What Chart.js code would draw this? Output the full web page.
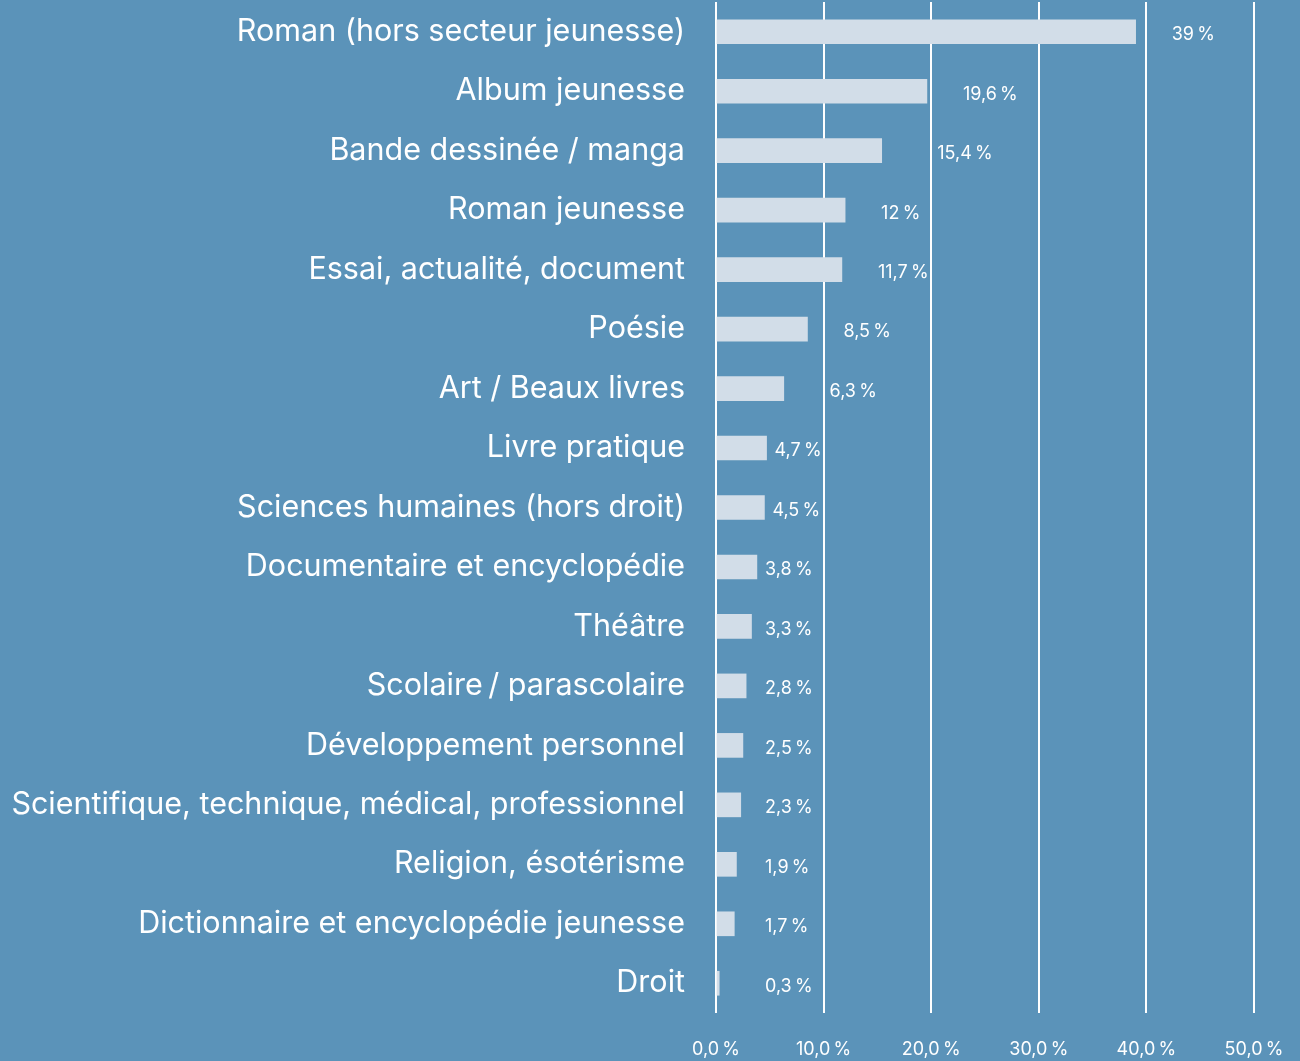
<!DOCTYPE html>
<html>
<head>
<meta charset="utf-8">
<script src="https://cdn.jsdelivr.net/npm/chart.js@4"></script>
<style>
  html, body { margin: 0; padding: 0; background: #5b93b9; }
  #wrap { width: 1300px; height: 1061px; }
</style>
</head>
<body>
<div id="wrap"><canvas id="genreChart"></canvas></div>
<script>
// Répartition par genre (%)
const categories = [
    'Roman (hors secteur jeunesse)',
    'Album jeunesse',
    'Bande dessinée / manga',
    'Roman jeunesse',
    'Essai, actualité, document',
    'Poésie',
    'Art / Beaux livres',
    'Livre pratique',
    'Sciences humaines (hors droit)',
    'Documentaire et encyclopédie',
    'Théâtre',
    'Scolaire\u202F/ parascolaire',
    'Développement personnel',
    'Scientifique, technique, médical, professionnel',
    'Religion, ésotérisme',
    'Dictionnaire et encyclopédie jeunesse',
    'Droit'
];
const shares = [39, 19.6, 15.4, 12, 11.7, 8.5, 6.3, 4.7, 4.5, 3.8, 3.3, 2.8, 2.5, 2.3, 1.9, 1.7, 0.3];
const valueLabels = ['39', '19,6', '15,4', '12', '11,7', '8,5', '6,3', '4,7', '4,5', '3,8', '3,3', '2,8', '2,5', '2,3', '1,9', '1,7', '0,3'];
const axisMax = 50;
const axisStep = 10;

const NNBSP = '\u202F';
const BG = '#5b93b9';
const BAR = '#d2dde8';

const backgroundPlugin = {
    id: 'bgFill',
    beforeDraw(chart) {
        const c = chart.ctx;
        c.save();
        c.fillStyle = BG;
        c.fillRect(0, 0, chart.width, chart.height);
        c.restore();
    }
};

// value labels right of each bar, nudged past any gridline they would cross
const valueLabelPlugin = {
    id: 'valueLabels',
    afterDatasetsDraw(chart) {
        const c = chart.ctx;
        const meta = chart.getDatasetMeta(0);
        const xScale = chart.scales.x;
        const x0 = xScale.getPixelForValue(0);
        const gridPx = xScale.ticks.map(t => xScale.getPixelForValue(t.value));
        const minLeft = x0 + 49;
        c.save();
        c.font = '18px Inter';
        c.fillStyle = '#ffffff';
        c.textAlign = 'left';
        c.textBaseline = 'middle';
        meta.data.forEach((bar, i) => {
            const text = valueLabels[i] + NNBSP + '%';
            const w = c.measureText(text).width;
            let left;
            if (shares[i] >= 6) {
                left = bar.x + 36;
            } else {
                left = Math.max(bar.x + 8, minLeft);
            }
            gridPx.forEach(g => {
                if (g > left - 3 && g < left + w) {
                    left = g + 6;
                }
            });
            c.fillText(text, left, bar.y + 3);
        });
        c.restore();
    }
};

const ctx = document.getElementById('genreChart');
const genreChart = new Chart(ctx, {
    type: 'bar',
    data: {
        labels: categories,
        datasets: [{
            data: shares,
            backgroundColor: BAR,
            borderWidth: 0,
            barThickness: 24
        }]
    },
    options: {
        indexAxis: 'y',
        responsive: true,
        maintainAspectRatio: false,
        animation: false,
        layout: {
            padding: { top: 2, right: 46, bottom: 0, left: 0 }
        },
        plugins: {
            legend: { display: false },
            tooltip: { enabled: false }
        },
        scales: {
            x: {
                min: 0,
                max: axisMax,
                border: { display: false },
                grid: {
                    color: '#ffffff',
                    lineWidth: 2,
                    drawTicks: false
                },
                ticks: {
                    stepSize: axisStep,
                    color: '#ffffff',
                    font: { family: 'Inter', size: 18 },
                    padding: 26,
                    maxRotation: 0,
                    callback: (v) => v.toFixed(1).replace('.', ',') + NNBSP + '%'
                },
                afterFit(scale) {
                    scale.height = 48;
                    scale.paddingLeft = 0;
                    scale.paddingRight = 0;
                }
            },
            y: {
                border: { display: false },
                grid: { display: false, drawTicks: false },
                ticks: {
                    color: '#ffffff',
                    font: { family: 'Inter', size: 30.5 },
                    padding: 31,
                    autoSkip: false
                },
                afterFit(scale) {
                    scale.width = 716;
                    scale.paddingTop = 0;
                    scale.paddingBottom = 0;
                }
            }
        }
    },
    plugins: [backgroundPlugin, valueLabelPlugin]
});
</script>
</body>
</html>
